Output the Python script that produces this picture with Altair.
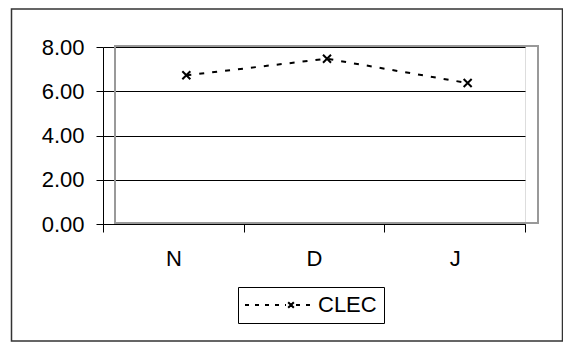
import altair as alt
import pandas as pd

months = ["N", "D", "J"]
clec = [6.72, 7.47, 6.37]
series = ["CLEC"] * 3
y_ticks = [0, 2, 4, 6, 8]

df = pd.DataFrame({"month": months, "value": clec, "series": series})
one = pd.DataFrame({"k": [0]})

FONT = "Liberation Sans"
FS = 22
W, H = 422, 177

x_enc = alt.X("month:N", sort=months, title=None,
              scale=alt.Scale(paddingInner=0, paddingOuter=0),
              axis=alt.Axis(labelAngle=0, tickBand="extent", domainColor="black",
                            tickColor="black", tickSize=8, labelFontSize=FS,
                            labelFont=FONT, labelColor="black", labelPadding=16,
                            grid=False))
y_enc = alt.Y("value:Q", title=None,
              scale=alt.Scale(domain=[0, 8], nice=False, zero=True),
              axis=alt.Axis(values=y_ticks, format=".2f", domainColor="black",
                            tickColor="black", tickSize=7, labelFontSize=FS,
                            labelFont=FONT, labelColor="black", labelPadding=12,
                            grid=True, gridColor="black", gridWidth=1, gridOpacity=1))

outer = alt.Chart(one).mark_rect(fill="transparent", stroke="#333333", strokeWidth=1.5).encode(
    x=alt.value(-91.5), x2=alt.value(459.5), y=alt.value(-38), y2=alt.value(294)
)

frame = alt.Chart(one).mark_rect(fill="transparent", stroke="#999999", strokeWidth=2).encode(
    x=alt.value(12), x2=alt.value(435), y=alt.value(-1), y2=alt.value(176)
)

legend_path = ("M-11,0L30,0"
               "M35,0L38.5,-3.5M35,0L31.5,-3.5M35,0L38.5,3.5M35,0L31.5,3.5"
               "M40,0L58,0")

line = alt.Chart(df).mark_line(strokeDash=[5, 8], strokeWidth=2, xOffset=13).encode(
    x=x_enc, y=y_enc,
    stroke=alt.Stroke("series:N", scale=alt.Scale(range=["black"]),
                      legend=alt.Legend(title=None, orient="none", legendX=135, legendY=240,
                                        symbolType=legend_path, symbolSize=4,
                                        symbolStrokeWidth=2, symbolDash=[4, 6],
                                        symbolFillColor="transparent",
                                        labelFontSize=FS, labelFont=FONT, labelColor="black",
                                        labelOffset=51, padding=7, strokeColor="black",
                                        fillColor="white"))
)

pts = alt.Chart(df).mark_point(shape="M-1,-1L1,1M-1,1L1,-1", filled=False, size=64,
                               strokeWidth=2, color="black", opacity=1, xOffset=13).encode(
    x=x_enc, y=y_enc
)

chart = alt.layer(outer, frame, line, pts).properties(
    width=W, height=H,
    padding={"left": 95, "top": 39, "right": 38, "bottom": 118},
    autosize=alt.AutoSizeParams(type="none"),
).configure_view(strokeWidth=0).configure(background="white")

chart.save("out.html", embed_options={"renderer": "svg", "actions": False})
